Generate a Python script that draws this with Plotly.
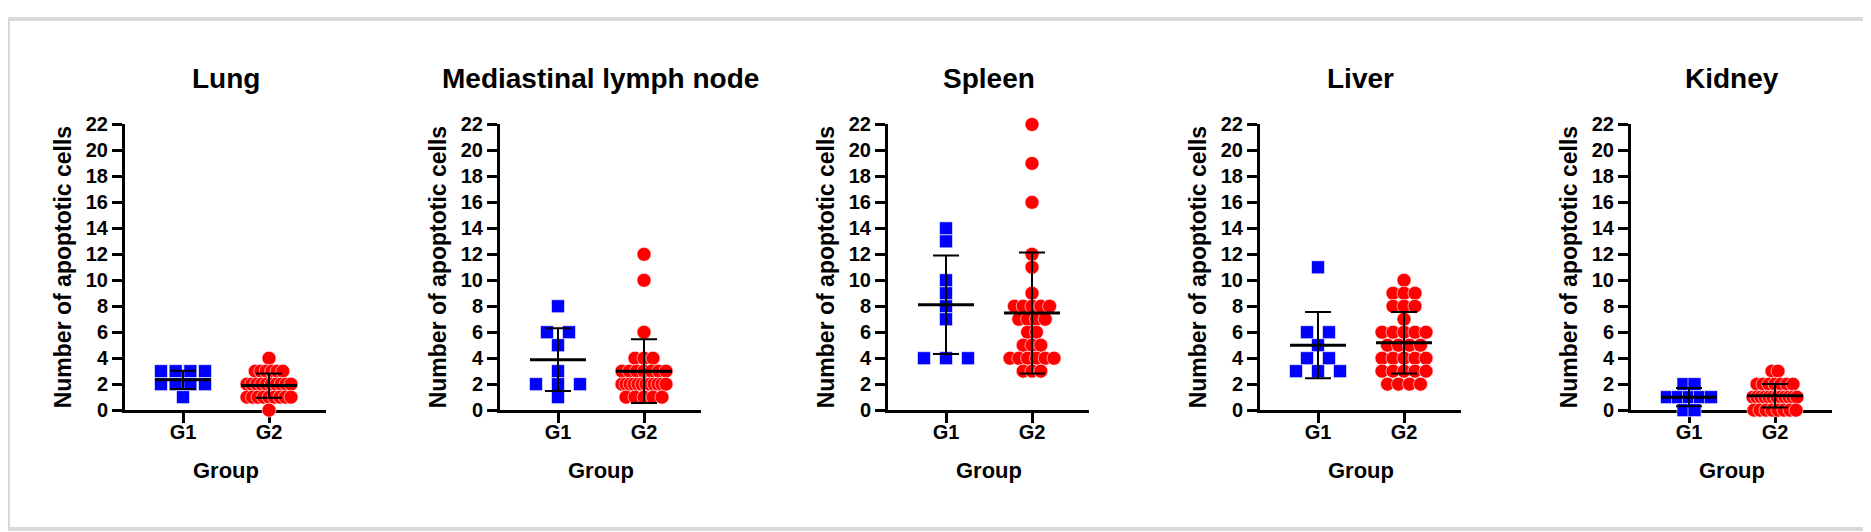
import numpy as np
import plotly.graph_objects as go

# --- data ---
organs = ["Lung", "Mediastinal lymph node", "Spleen", "Liver", "Kidney"]
groups = ["G1", "G2"]
y_title = "Number of apoptotic cells"
x_title = "Group"
y_ticks = [0, 2, 4, 6, 8, 10, 12, 14, 16, 18, 20, 22]

lung_g1 = [3, 3, 3, 3, 2, 2, 2, 2, 1]
lung_g2 = [4, 3, 3, 3, 3, 3, 3, 2, 2, 2, 2, 2, 2, 2, 2, 2, 2,
           1, 1, 1, 1, 1, 1, 1, 1, 1, 0]
med_g1 = [8, 6, 6, 5, 3, 2, 2, 2, 1]
med_g2 = [12, 10, 6, 4, 4, 4, 3, 3, 3, 3, 3, 3, 3,
          2, 2, 2, 2, 2, 2, 2, 2, 2, 2, 2, 2, 1, 1, 1, 1, 1]
spleen_g1 = [14, 13, 10, 9, 8, 7, 4, 4, 4]
spleen_g2 = [22, 19, 16, 12, 11, 9, 8, 8, 8, 8, 8, 7, 7, 7, 7, 6, 6,
             5, 5, 5, 4, 4, 4, 4, 4, 4, 3, 3, 3]
liver_g1 = [11, 6, 6, 5, 4, 4, 3, 3, 3]
liver_g2 = [10, 9, 9, 9, 8, 8, 8, 7, 6, 6, 6, 6, 6, 5, 5, 5, 5,
            4, 4, 4, 4, 4, 3, 3, 3, 3, 3, 2, 2, 2, 2]
kidney_g1 = [2, 2, 1, 1, 1, 1, 1, 0, 0]
kidney_g2 = [3, 3, 2, 2, 2, 2, 2, 2, 2, 1, 1, 1, 1, 1, 1, 1, 1, 1, 1, 1, 1,
             0, 0, 0, 0, 0, 0, 0, 0]

panel_data = [(lung_g1, lung_g2), (med_g1, med_g2), (spleen_g1, spleen_g2),
              (liver_g1, liver_g2), (kidney_g1, kidney_g2)]

# --- layout in pixels ---
W, H = 1871, 532
axis_left = [117, 492, 880, 1252, 1623]   # x of each y-axis line
axis_len = 201
PX = 86.0            # px between G1 and G2
G1_OFF = 58          # px from y-axis to G1
MAX_SPAN = 44        # widest spread of one row of points, px
# point spacing (px) per panel, (G1, G2)
spacing = [(22, 5.5), (22, 9), (22, 8.8), (22, 11), (11, 6)]
y_top, y_zero = 110, 408

FONT = "Liberation Sans"
BLUE, RED = "#0000ff", "#ff0000"


def spread(values, center, step_px):
    vals = np.asarray(values, dtype=float)
    xs = np.empty_like(vals)
    for v in np.unique(vals):
        idx = np.where(vals == v)[0]
        n = len(idx)
        step = step_px if n < 2 else min(step_px, MAX_SPAN / (n - 1))
        xs[idx] = center + (np.arange(n) - (n - 1) / 2) * step / PX
    return xs


def mean_sd_lines(values, center):
    m = np.mean(values)
    s = np.std(values, ddof=1)
    hw, cw = 28 / PX, 13 / PX
    mean_x = [center - hw, center + hw]
    mean_y = [m, m]
    sd_x = [center, center, None, center - cw, center + cw, None, center - cw, center + cw]
    sd_y = [m - s, m + s, None, m + s, m + s, None, m - s, m - s]
    return mean_x, mean_y, sd_x, sd_y


fig = go.Figure()
annotations = []
ydom = [(H - y_zero) / H, (H - y_top) / H]

for i, (organ, (g1, g2)) in enumerate(zip(organs, panel_data)):
    k = "" if i == 0 else str(i + 1)
    xa, ya = "x" + k, "y" + k
    sp1, sp2 = spacing[i]

    fig.add_trace(go.Scatter(
        x=spread(g1, 0, sp1), y=g1, mode="markers", xaxis=xa, yaxis=ya,
        marker=dict(symbol="square", size=13, color=BLUE, line=dict(color="white", width=0.6)),
        cliponaxis=False, showlegend=False, hoverinfo="y"))
    fig.add_trace(go.Scatter(
        x=spread(g2, 1, sp2), y=g2, mode="markers", xaxis=xa, yaxis=ya,
        marker=dict(symbol="circle", size=14, color=RED, line=dict(color="white", width=0.6)),
        cliponaxis=False, showlegend=False, hoverinfo="y"))

    for c, vals in enumerate((g1, g2)):
        mx, my, sx, sy = mean_sd_lines(vals, c)
        fig.add_trace(go.Scatter(x=sx, y=sy, mode="lines", xaxis=xa, yaxis=ya,
                                 line=dict(color="black", width=2), cliponaxis=False,
                                 showlegend=False, hoverinfo="skip"))
        fig.add_trace(go.Scatter(x=mx, y=my, mode="lines", xaxis=xa, yaxis=ya,
                                 line=dict(color="black", width=3), cliponaxis=False,
                                 showlegend=False, hoverinfo="skip"))

    left = axis_left[i]
    xdom = [left / W, (left + axis_len) / W]
    fig.layout["xaxis" + k] = dict(
        domain=xdom, anchor=ya, range=[-G1_OFF / PX, (axis_len - G1_OFF) / PX],
        tickvals=[0, 1], ticktext=groups, ticks="outside", ticklen=10, tickwidth=2.5,
        tickcolor="black", showline=True, linewidth=3, linecolor="black",
        showgrid=False, zeroline=False, layer="below traces", ticklabelstandoff=-8,
        tickfont=dict(family=FONT, size=20, color="black", weight="bold"))
    fig.layout["yaxis" + k] = dict(
        domain=ydom, anchor=xa, range=[0, 22], tickvals=y_ticks,
        ticks="outside", ticklen=10, tickwidth=2.5, tickcolor="black",
        showline=True, linewidth=3, linecolor="black", showgrid=False,
        zeroline=False, layer="below traces",
        tickfont=dict(family=FONT, size=20, color="black", weight="bold"))

    cx = (xdom[0] + xdom[1]) / 2
    annotations.append(dict(text=organ, x=cx, y=(H - 62) / H, xref="paper", yref="paper",
                            showarrow=False, xanchor="center", yanchor="middle",
                            font=dict(family=FONT, size=28, color="black", weight="bold")))
    annotations.append(dict(text=y_title, x=(left - 62) / W, y=(ydom[0] + ydom[1]) / 2,
                            xref="paper", yref="paper", showarrow=False, textangle=-90,
                            xanchor="center", yanchor="middle",
                            font=dict(family=FONT, size=23, color="black", weight="bold")))
    annotations.append(dict(text=x_title, x=cx, y=(H - 471) / H, xref="paper", yref="paper",
                            showarrow=False, xanchor="center", yanchor="middle",
                            font=dict(family=FONT, size=22, color="black", weight="bold")))

fig.update_layout(
    width=W, height=H, margin=dict(l=0, r=0, t=0, b=0),
    paper_bgcolor="white", plot_bgcolor="white",
    annotations=annotations,
    shapes=[dict(type="rect", xref="paper", yref="paper", x0=0, x1=1, y0=0, y1=1,
                 line=dict(color="#d9d9d9", width=4))])

fig.write_html("out.html")
